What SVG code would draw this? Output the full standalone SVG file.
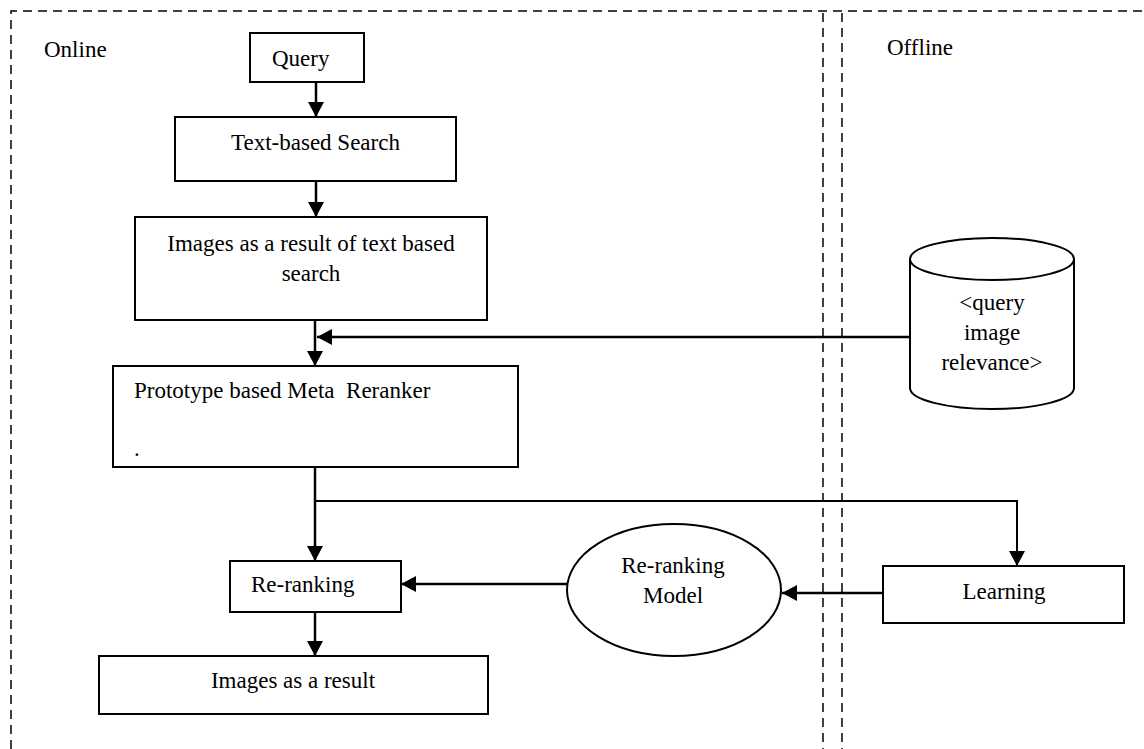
<svg xmlns="http://www.w3.org/2000/svg" width="1144" height="749" viewBox="0 0 1144 749">
<style>
text{font-family:"Liberation Serif","Times New Roman",serif;font-size:23px;fill:#000}
.box{fill:#fff;stroke:#000;stroke-width:2}
.shape{fill:#fff;stroke:#000;stroke-width:2}
.dash{fill:none;stroke:#000;stroke-width:1.5;stroke-dasharray:9 6}
.conn{fill:none;stroke:#000;stroke-width:2.5}
.thin{fill:none;stroke:#000;stroke-width:2}
.c{text-anchor:middle}
</style>
<defs>
<marker id="ah" markerWidth="16" markerHeight="16" refX="15" refY="8" orient="auto" markerUnits="userSpaceOnUse"><path d="M0,0 L15,8 L0,16 z" fill="#000"/></marker>
</defs>
<rect width="1144" height="749" fill="#fff"/>
<g id="frame">
<path class="dash" d="M11,749 V11 H1144"/>
<path class="dash" d="M823,13 V749"/>
<path class="dash" d="M842,13 V749"/>
<text x="44" y="57">Online</text>
<text x="887" y="55">Offline</text>
</g>
<g id="connectors">
<path class="conn" d="M316,82 V117" marker-end="url(#ah)"/>
<path class="conn" d="M316,181 V217" marker-end="url(#ah)"/>
<path class="conn" d="M315,320 V366" marker-end="url(#ah)"/>
<path class="conn" d="M910,337 H317" marker-end="url(#ah)"/>
<path class="conn" d="M315,467 V561" marker-end="url(#ah)"/>
<path class="thin" d="M315,501 H1017 V566" marker-end="url(#ah)"/>
<path class="conn" d="M567,584 H401" marker-end="url(#ah)"/>
<path class="conn" d="M883,593 H782" marker-end="url(#ah)"/>
<path class="conn" d="M315,612 V656" marker-end="url(#ah)"/>
</g>
<g id="query">
<rect class="box" x="250" y="33" width="114" height="49"/>
<text x="272" y="66">Query</text>
</g>
<g id="text-search">
<rect class="box" x="175" y="117" width="281" height="64"/>
<text class="c" x="315.5" y="150">Text-based Search</text>
</g>
<g id="images-text">
<rect class="box" x="135" y="217" width="352" height="103"/>
<text class="c" x="311" y="251">Images as a result of text based</text>
<text class="c" x="311" y="281">search</text>
</g>
<g id="prototype">
<rect class="box" x="113" y="366" width="405" height="101"/>
<text x="134" y="398" xml:space="preserve">Prototype based Meta  Reranker</text>
<text x="134" y="456">.</text>
</g>
<g id="database">
<path class="shape" d="M910,259 V388 A82,21 0 0 0 1074,388 V259"/>
<ellipse class="shape" cx="992" cy="259" rx="82" ry="21"/>
<text class="c" x="992" y="310">&lt;query</text>
<text class="c" x="992" y="340">image</text>
<text class="c" x="992" y="370">relevance&gt;</text>
</g>
<g id="reranking">
<rect class="box" x="230" y="561" width="171" height="51"/>
<text x="251" y="592">Re-ranking</text>
</g>
<g id="model">
<ellipse class="shape" cx="674" cy="590" rx="107" ry="66"/>
<text class="c" x="673" y="573">Re-ranking</text>
<text class="c" x="673" y="603">Model</text>
</g>
<g id="learning">
<rect class="box" x="883" y="566" width="241" height="57"/>
<text class="c" x="1004" y="599">Learning</text>
</g>
<g id="images-result">
<rect class="box" x="99" y="656" width="389" height="58"/>
<text class="c" x="293" y="688">Images as a result</text>
</g>
</svg>
